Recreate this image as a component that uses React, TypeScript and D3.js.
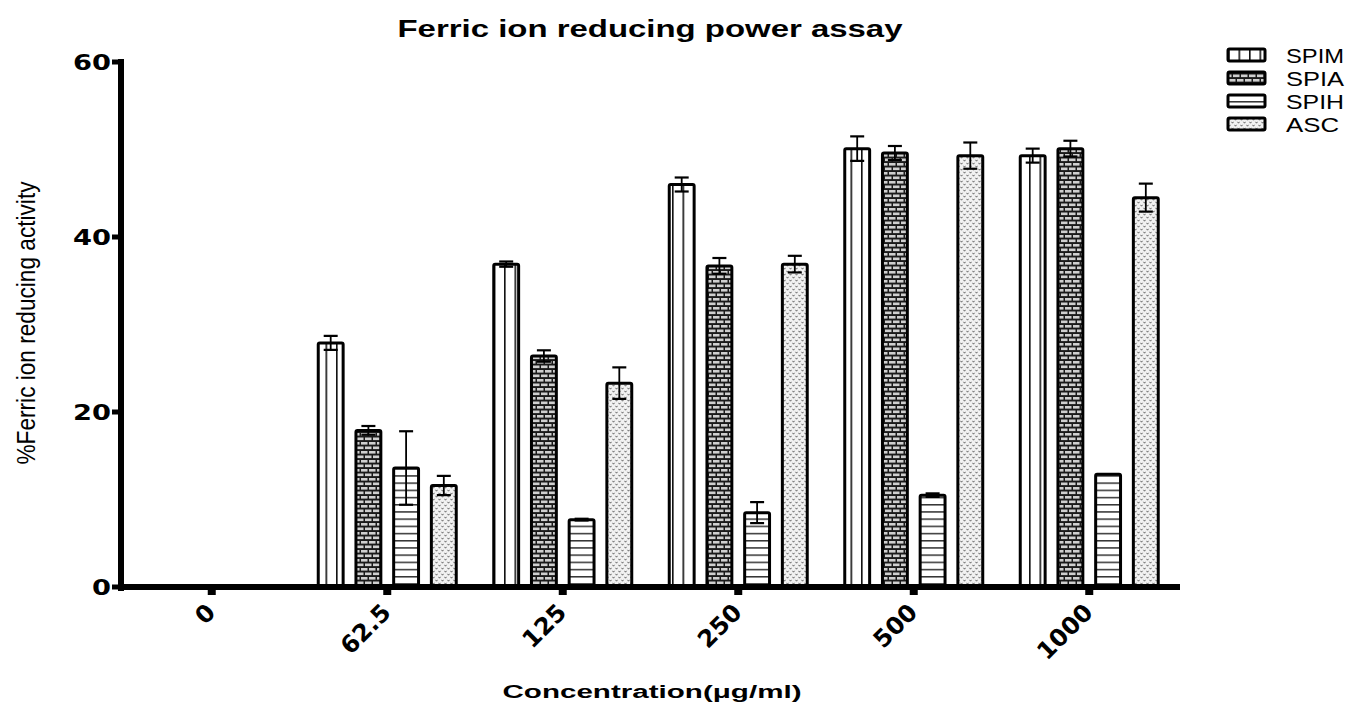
import React from "react";
import * as d3 from "d3";

const categories = ["0", "62.5", "125", "250", "500", "1000"];
const seriesNames = ["SPIM", "SPIA", "SPIH", "ASC"];
const spimValues = [0, 27.9, 36.9, 46.0, 50.1, 49.3];
const spimErrors = [0, 0.8, 0.3, 0.8, 1.4, 0.8];
const spiaValues = [0, 17.9, 26.4, 36.7, 49.6, 50.1];
const spiaErrors = [0, 0.5, 0.65, 0.9, 0.8, 0.9];
const spihValues = [0, 13.6, 7.7, 8.5, 10.5, 12.9];
const spihErrors = [0, 4.2, 0.1, 1.2, 0.2, 0.05];
const ascValues = [0, 11.6, 23.3, 36.9, 49.3, 44.5];
const ascErrors = [0, 1.1, 1.8, 0.95, 1.5, 1.6];
const yTicks = [0, 20, 40, 60];

const allValues = [spimValues, spiaValues, spihValues, ascValues];
const allErrors = [spimErrors, spiaErrors, spihErrors, ascErrors];
const patternIds = ["pSPIM", "pSPIA", "pSPIH", "pASC"];

export default function App() {
  const W = 1351;
  const H = 702;
  const y = d3.scaleLinear().domain([0, 60]).range([587, 62]);
  const x = d3.scaleBand<string>().domain(categories).range([124, 1177]).padding(0);
  const inner = d3.scaleBand<string>().domain(seriesNames).range([-69, 69]).paddingInner(0.34).paddingOuter(0);
  const bw = inner.bandwidth();

  const bars: any[] = [];
  categories.forEach((c, ci) => {
    seriesNames.forEach((s, si) => {
      const v = allValues[si][ci];
      const e = allErrors[si][ci];
      bars.push({ c, s, si, v, e, x0: (x(c) as number) + x.bandwidth() / 2 + (inner(s) as number) });
    });
  });

  return (
    <svg width={W} height={H} style={{ position: "absolute", left: 0, top: 0, background: "#fff" }}>
      <defs>
        <pattern id="pSPIM" patternUnits="userSpaceOnUse" width={10.5} height={10}>
          <rect width={10.5} height={10} fill="#fff" />
          <rect x={0} y={0} width={1.6} height={10} fill="#111" />
        </pattern>
        <pattern id="pSPIA" patternUnits="userSpaceOnUse" width={16} height={9}>
          <rect width={16} height={9} fill="#1a1a1a" />
          <rect x={1} y={1} width={6.5} height={2.6} fill="#cfcfcf" />
          <rect x={9} y={1} width={6.5} height={2.6} fill="#cfcfcf" />
          <rect x={-3} y={5.5} width={6.5} height={2.6} fill="#cfcfcf" />
          <rect x={5} y={5.5} width={6.5} height={2.6} fill="#cfcfcf" />
          <rect x={13} y={5.5} width={6.5} height={2.6} fill="#cfcfcf" />
        </pattern>
        <pattern id="pSPIH" patternUnits="userSpaceOnUse" width={10} height={7.2}>
          <rect width={10} height={7.2} fill="#fff" />
          <rect x={0} y={0} width={10} height={1.5} fill="#333" />
        </pattern>
        <pattern id="pASC" patternUnits="userSpaceOnUse" width={6} height={6}>
          <rect width={6} height={6} fill="#f2f2f2" />
          <path d="M0.5,0.8 L1.5,2.2 L2.5,0.8" stroke="#555" strokeWidth={0.9} fill="none" />
          <path d="M3.5,3.8 L4.5,5.2 L5.5,3.8" stroke="#555" strokeWidth={0.9} fill="none" />
        </pattern>
      </defs>

      {/* Title */}
      <text x={650} y={37} textAnchor="middle" fontFamily="Liberation Sans, Arial, sans-serif" fontWeight="bold" fontSize={23} textLength={505} lengthAdjust="spacingAndGlyphs">
        Ferric ion reducing power assay
      </text>

      {/* Bars */}
      {bars.map((b, i) => (
        b.v > 0 ? (
          <g key={i}>
            <rect x={b.x0} y={y(b.v)} width={bw} height={y(0) - y(b.v)} fill={`url(#${patternIds[b.si]})`} stroke="#000" strokeWidth={3} rx={1.5} />
            {b.e > 0.08 && (
              <g stroke="#000">
                <line x1={b.x0 + bw / 2} x2={b.x0 + bw / 2} y1={y(b.v - b.e)} y2={y(b.v + b.e)} strokeWidth={1.8} />
                <line x1={b.x0 + bw / 2 - 7} x2={b.x0 + bw / 2 + 7} y1={y(b.v + b.e)} y2={y(b.v + b.e)} strokeWidth={2.2} />
                <line x1={b.x0 + bw / 2 - 7} x2={b.x0 + bw / 2 + 7} y1={y(b.v - b.e)} y2={y(b.v - b.e)} strokeWidth={2.2} />
              </g>
            )}
          </g>
        ) : null
      ))}

      {/* Y axis */}
      <rect x={118} y={59} width={6} height={532} fill="#000" />
      {yTicks.map((t) => (
        <g key={t}>
          <rect x={112} y={y(t) - 2.5} width={8} height={5} fill="#000" />
          <text x={111} y={y(t) + 8} textAnchor="end" fontFamily="DejaVu Sans, sans-serif" fontWeight="bold" fontSize={21} textLength={t === 0 ? 19 : 38} lengthAdjust="spacingAndGlyphs">
            {t}
          </text>
        </g>
      ))}

      {/* X axis */}
      <rect x={118} y={584} width={1062} height={6} fill="#000" />
      {categories.map((c) => {
        const cx = (x(c) as number) + x.bandwidth() / 2;
        return (
          <g key={c}>
            <rect x={cx - 4} y={588} width={8} height={7} fill="#000" />
            <text transform={`translate(${cx + 5},${614}) rotate(-45)`} textAnchor="end" fontFamily="DejaVu Sans, sans-serif" fontWeight="bold" fontSize={24}>
              {c}
            </text>
          </g>
        );
      })}

      {/* Axis titles */}
      <text x={652} y={698} textAnchor="middle" fontFamily="Liberation Sans, Arial, sans-serif" fontWeight="bold" fontSize={18} textLength={299} lengthAdjust="spacingAndGlyphs">
        Concentration(μg/ml)
      </text>
      <text transform="translate(35,323) rotate(-90)" textAnchor="middle" fontFamily="Liberation Sans Narrow, Liberation Sans, Arial, sans-serif" fontSize={26} textLength={283} lengthAdjust="spacingAndGlyphs">
        %Ferric ion reducing activity
      </text>

      {/* Legend */}
      {seriesNames.map((s, i) => (
        <g key={s} transform={`translate(1228,${55 + i * 23})`}>
          <rect x={0} y={-6} width={37} height={12} fill={`url(#${patternIds[i]})`} stroke="#000" strokeWidth={3} rx={1.5} />
          <text x={58} y={8} fontFamily="Liberation Sans, Arial, sans-serif" fontSize={21} textLength={i === 3 ? 53 : 58} lengthAdjust="spacingAndGlyphs">
            {s}
          </text>
        </g>
      ))}
    </svg>
  );
}
